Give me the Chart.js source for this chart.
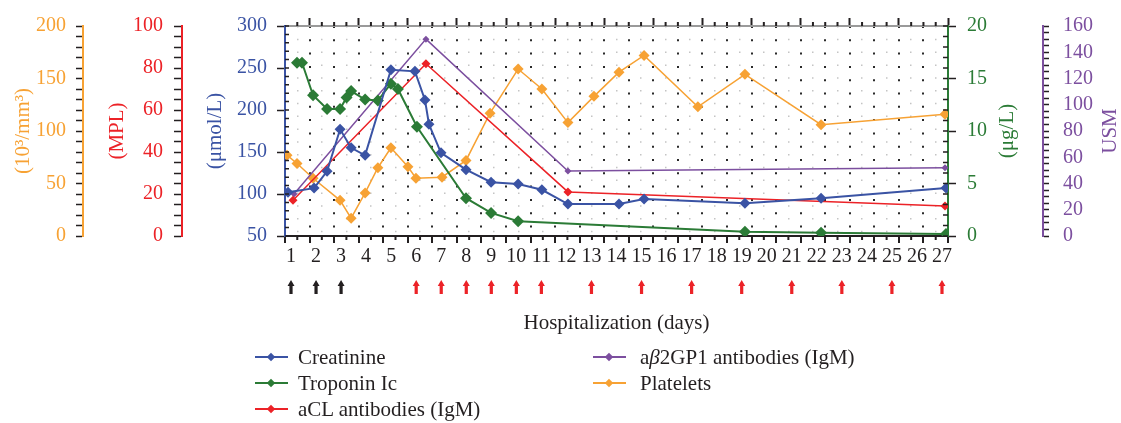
<!DOCTYPE html>
<html>
<head>
<meta charset="utf-8">
<script src="https://cdn.jsdelivr.net/npm/chart.js@4.4.1/dist/chart.umd.min.js"></script>
<style>
  html, body { margin: 0; padding: 0; background: #fff; }
  #wrap { position: relative; width: 1121px; height: 423px; }
  #chart { display: block; }
  #legend { position: absolute; left: 0; top: 0; font-family: 'Liberation Serif', 'Times New Roman', serif; font-size: 21px; color: #231f20; }
  .item { position: absolute; white-space: nowrap; height: 26px; line-height: 26px; }
  .mark { position: absolute; left: 0; top: 12px; width: 33px; height: 2px; }
  .mark i { position: absolute; left: 13px; top: -2px; width: 6px; height: 6px; transform: rotate(45deg); }
  .txt { position: absolute; top: 0; }
</style>
</head>
<body>
<div id="wrap">
  <canvas id="chart" width="1121" height="423"></canvas>
  <div id="legend"></div>
</div>
<script>
// ---------- data ----------
const dayLabels = [1, 2, 3, 4, 5, 6, 7, 8, 9, 10, 11, 12, 13, 14, 15, 16, 17, 18, 19, 20, 21, 22, 23, 24, 25, 26, 27];
const blackArrowDays = [1, 2, 3];
const redArrowDays = [6, 7, 8, 9, 10, 11, 13, 15, 17, 19, 21, 23, 25, 27];

const creatinineDays = [0.88, 1.92, 2.44, 2.96, 3.4, 3.96, 4.99, 5.95, 6.35, 6.51, 6.99, 7.99, 8.99, 10.07, 11.02, 12.06, 14.1, 15.1, 19.13, 22.17, 27.16];
const creatinineValues = [102, 107, 127, 177, 155, 146, 248, 246, 212, 183, 149, 129, 114, 112, 105, 88, 88, 94, 89, 95, 107];

const troponinDays = [1.24, 1.44, 1.88, 2.44, 2.96, 3.22, 3.4, 3.96, 4.47, 4.99, 5.27, 6.03, 7.99, 8.99, 10.07, 19.13, 22.17, 27.16];
const troponinValues = [16.5, 16.5, 13.4, 12.1, 12.1, 13.2, 13.8, 13.0, 12.9, 14.5, 14.0, 10.4, 3.6, 2.2, 1.4, 0.4, 0.3, 0.2];

const aclDays = [1.08, 6.39, 12.06, 27.12];
const aclValues = [17, 82, 21, 14.3];

const b2gpDays = [1.12, 6.39, 12.06, 27.12];
const b2gpValues = [32, 150, 49.5, 52];

const plateletDays = [0.84, 1.24, 1.88, 2.96, 3.4, 3.96, 4.47, 4.99, 5.67, 5.99, 7.03, 7.99, 8.95, 10.07, 11.02, 12.06, 13.1, 14.1, 15.1, 17.25, 19.13, 22.17, 27.12];
const plateletValues = [77, 69, 55, 34, 17, 41, 65, 84, 66, 55, 56, 72, 117, 159, 140, 108, 133, 156, 172, 123, 154, 106, 116];

const creatinineTicks = [50, 100, 150, 200, 250, 300];
const troponinTicks = [0, 5, 10, 15, 20];
const aclTicks = [0, 20, 40, 60, 80, 100];
const b2gpTicks = [0, 20, 40, 60, 80, 100, 120, 140, 160];
const plateletTicks = [0, 50, 100, 150, 200];

// ---------- colours ----------
const cBlue = '#3a53a4', cGreen = '#2b7b36', cRed = '#ec2227', cPurple = '#7c4f9f', cOrange = '#f7a234';
const ink = '#231f20';

Chart.defaults.font.family = "'Liberation Serif', 'Times New Roman', serif";
Chart.defaults.color = ink;

const steps = (a, b, s) => { const out = []; for (let v = a; v <= b + 1e-9; v += s) out.push(+v.toFixed(2)); return out; };
const setTicks = vals => scale => { scale.ticks = vals.map(v => ({ value: v })); };
const isMajor = ctx => ctx.tick && Number.isInteger(ctx.tick.value);

function series(label, days, vals, color, axis, radius, width) {
    return {
        label: label,
        data: days.map((d, i) => ({ x: d, y: vals[i] })),
        xAxisID: 'x', yAxisID: axis,
        borderColor: color, backgroundColor: color, borderWidth: width,
        pointStyle: 'rectRot', pointRadius: radius, pointBorderWidth: 0, tension: 0
    };
}

function yAxis(pos, min, max, step, labels, color, width, tl, pad, weight, title, titleTop) {
    return {
        type: 'linear', position: pos, min: min, max: max, weight: weight,
        afterBuildTicks: setTicks(steps(min, max, step)),
        afterFit: s => { s.width = width; },
        ticks: { autoSkip: false, color: color, padding: pad, font: { size: 20 }, callback: v => labels.includes(v) ? String(v) : '' },
        grid: { drawOnChartArea: false, tickLength: tl, tickColor: ink, tickWidth: 1.5 },
        border: { color: color, width: 2 },
        title: title ? { display: true, text: title, color: color, font: { size: 21 }, padding: { top: titleTop, bottom: 0 } } : { display: false }
    };
}

// inner minor ticks, arrows and the right-hand titles
const decor = {
    id: 'decor',
    afterDraw(chart) {
        const { ctx, chartArea: a, scales: s } = chart;
        ctx.save();
        ctx.strokeStyle = ink;
        ctx.lineWidth = 1.5;
        ctx.beginPath();
        steps(50, 300, 10).forEach(v => {
            const y = s.y.getPixelForValue(v);
            ctx.moveTo(a.left, y); ctx.lineTo(a.left + 4, y);
        });
        steps(0, 20, 1).forEach(v => {
            const y = s.yG.getPixelForValue(v);
            ctx.moveTo(a.right - 5, y); ctx.lineTo(a.right, y);
        });
        ctx.stroke();
        ctx.lineWidth = 2;
        ctx.beginPath();
        steps(0.5, 26.5, 1).forEach(k => {
            const x = s.xg.getPixelForValue(k);
            ctx.moveTo(x, a.bottom); ctx.lineTo(x, a.bottom + 4);
        });
        steps(0.5, 27, 0.5).filter(k => !(Number.isInteger(k) && k % 2 === 1)).forEach(k => {
            const x = s.xt.getPixelForValue(k);
            ctx.moveTo(x, a.top - 4); ctx.lineTo(x, a.top);
        });
        ctx.stroke();

        const arrow = (d, color) => {
            const x = s.x.getPixelForValue(d), y = a.bottom + 44;
            ctx.fillStyle = color;
            ctx.beginPath();
            ctx.moveTo(x, y);
            ctx.lineTo(x + 3.5, y + 6); ctx.lineTo(x + 1.6, y + 6); ctx.lineTo(x + 1.6, y + 14);
            ctx.lineTo(x - 1.6, y + 14); ctx.lineTo(x - 1.6, y + 6); ctx.lineTo(x - 3.5, y + 6);
            ctx.closePath();
            ctx.fill();
        };
        blackArrowDays.forEach(d => arrow(d, ink));
        redArrowDays.forEach(d => arrow(d, cRed));

        ctx.font = "21px 'Liberation Serif', serif";
        ctx.textAlign = 'center';
        ctx.textBaseline = 'middle';
        const midY = (a.top + a.bottom) / 2;
        [[s.yG.right - 36, '(μg/L)', cGreen], [s.yP.right - 11, 'USM', cPurple]].forEach(([x, t, c]) => {
            ctx.save();
            ctx.translate(x, midY);
            ctx.rotate(-Math.PI / 2);
            ctx.fillStyle = c;
            ctx.fillText(t, 0, 0);
            ctx.restore();
        });
        ctx.restore();
    }
};

const datasets = [
    series('Creatinine', creatinineDays, creatinineValues, cBlue, 'y', 5.5, 2),
    series('Troponin Ic', troponinDays, troponinValues, cGreen, 'yG', 6, 2),
    series('aCL antibodies (IgM)', aclDays, aclValues, cRed, 'yR', 4.5, 1.5),
    series('a<i>β</i>2GP1 antibodies (IgM)', b2gpDays, b2gpValues, cPurple, 'yP', 3.5, 1.5),
    series('Platelets', plateletDays, plateletValues, cOrange, 'yO', 5.5, 1.5)
];

new Chart(document.getElementById('chart'), {
    type: 'line',
    data: { datasets: datasets },
    options: {
        responsive: false,
        devicePixelRatio: 1,
        animation: false,
        events: [],
        layout: { padding: { top: 18, left: 0, right: 0, bottom: 87.4 } },
        plugins: { legend: { display: false }, tooltip: { enabled: false } },
        scales: {
            x: {
                type: 'linear', position: 'bottom', min: 0.76, max: 27.24, weight: 1,
                afterBuildTicks: setTicks(dayLabels),
                afterFit: s => { s.height = 92.6; },
                ticks: { autoSkip: false, maxRotation: 0, minRotation: 0, padding: 2, font: { size: 20 }, color: ink, callback: v => String(v) },
                grid: { display: false, drawTicks: false },
                border: { display: false },
                title: { display: true, text: 'Hospitalization (days)', color: ink, font: { size: 21 }, padding: { top: 39.4, bottom: 0 } }
            },
            xg: {
                type: 'linear', position: 'bottom', min: 0, max: 27, weight: 0,
                afterBuildTicks: setTicks(steps(0, 27, 0.5)),
                afterFit: s => { s.height = 7; },
                ticks: { display: false },
                grid: {
                    color: ctx => isMajor(ctx) ? '#2a2a2a' : '#c4c4c4',
                    lineWidth: ctx => isMajor(ctx) ? 2 : 1.5,
                    tickLength: 7, tickWidth: 2,
                    tickColor: ctx => isMajor(ctx) ? ink : 'rgba(0,0,0,0)'
                },
                border: { color: ink, width: 2, dash: ctx => isMajor(ctx) ? [2, 11.3] : [1.5, 11.3] }
            },
            xt: {
                type: 'linear', position: 'top', min: 0, max: 27,
                afterBuildTicks: setTicks(steps(1, 27, 2)),
                afterFit: s => { s.height = 8; },
                ticks: { display: false },
                grid: { drawOnChartArea: false, tickLength: 8, tickColor: ink, tickWidth: 2 },
                border: { color: '#9a9a9a', width: 2 }
            },
            y: yAxis('left', 50, 300, 50, creatinineTicks, cBlue, 103, 8, 10, 0, '(μmol/L)', 20.4),
            yR: yAxis('left', 0, 100, 5, aclTicks, cRed, 99, 8, 11, 1, '(MPL)', 21.4),
            yO: yAxis('left', 0, 200, 10, plateletTicks, cOrange, 83, 7, 10, 2, '(10³/mm³)', 10.4),
            yG: yAxis('right', 0, 20, 5, troponinTicks, cGreen, 95, 8, 11, 0, null, 0),
            yP: yAxis('right', 0, 160, 5, b2gpTicks, cPurple, 78, 6, 14, 1, null, 0)
        }
    },
    plugins: [decor]
});

// ---------- legend (two columns, filled column by column) ----------
const legendCols = [255, 593];
const legendTop = 344, legendRow = 26;
const legendEl = document.getElementById('legend');
datasets.forEach((ds, i) => {
    const col = i < 3 ? 0 : 1, row = i < 3 ? i : i - 3;
    const div = document.createElement('div');
    div.className = 'item';
    div.style.left = legendCols[col] + 'px';
    div.style.top = (legendTop + row * legendRow) + 'px';
    div.innerHTML = '<span class="mark" style="background:' + ds.borderColor + '"><i style="background:' + ds.borderColor + '"></i></span>' +
        '<span class="txt" style="left:' + (col === 0 ? 43 : 47) + 'px">' + ds.label + '</span>';
    legendEl.appendChild(div);
});
</script>
</body>
</html>
